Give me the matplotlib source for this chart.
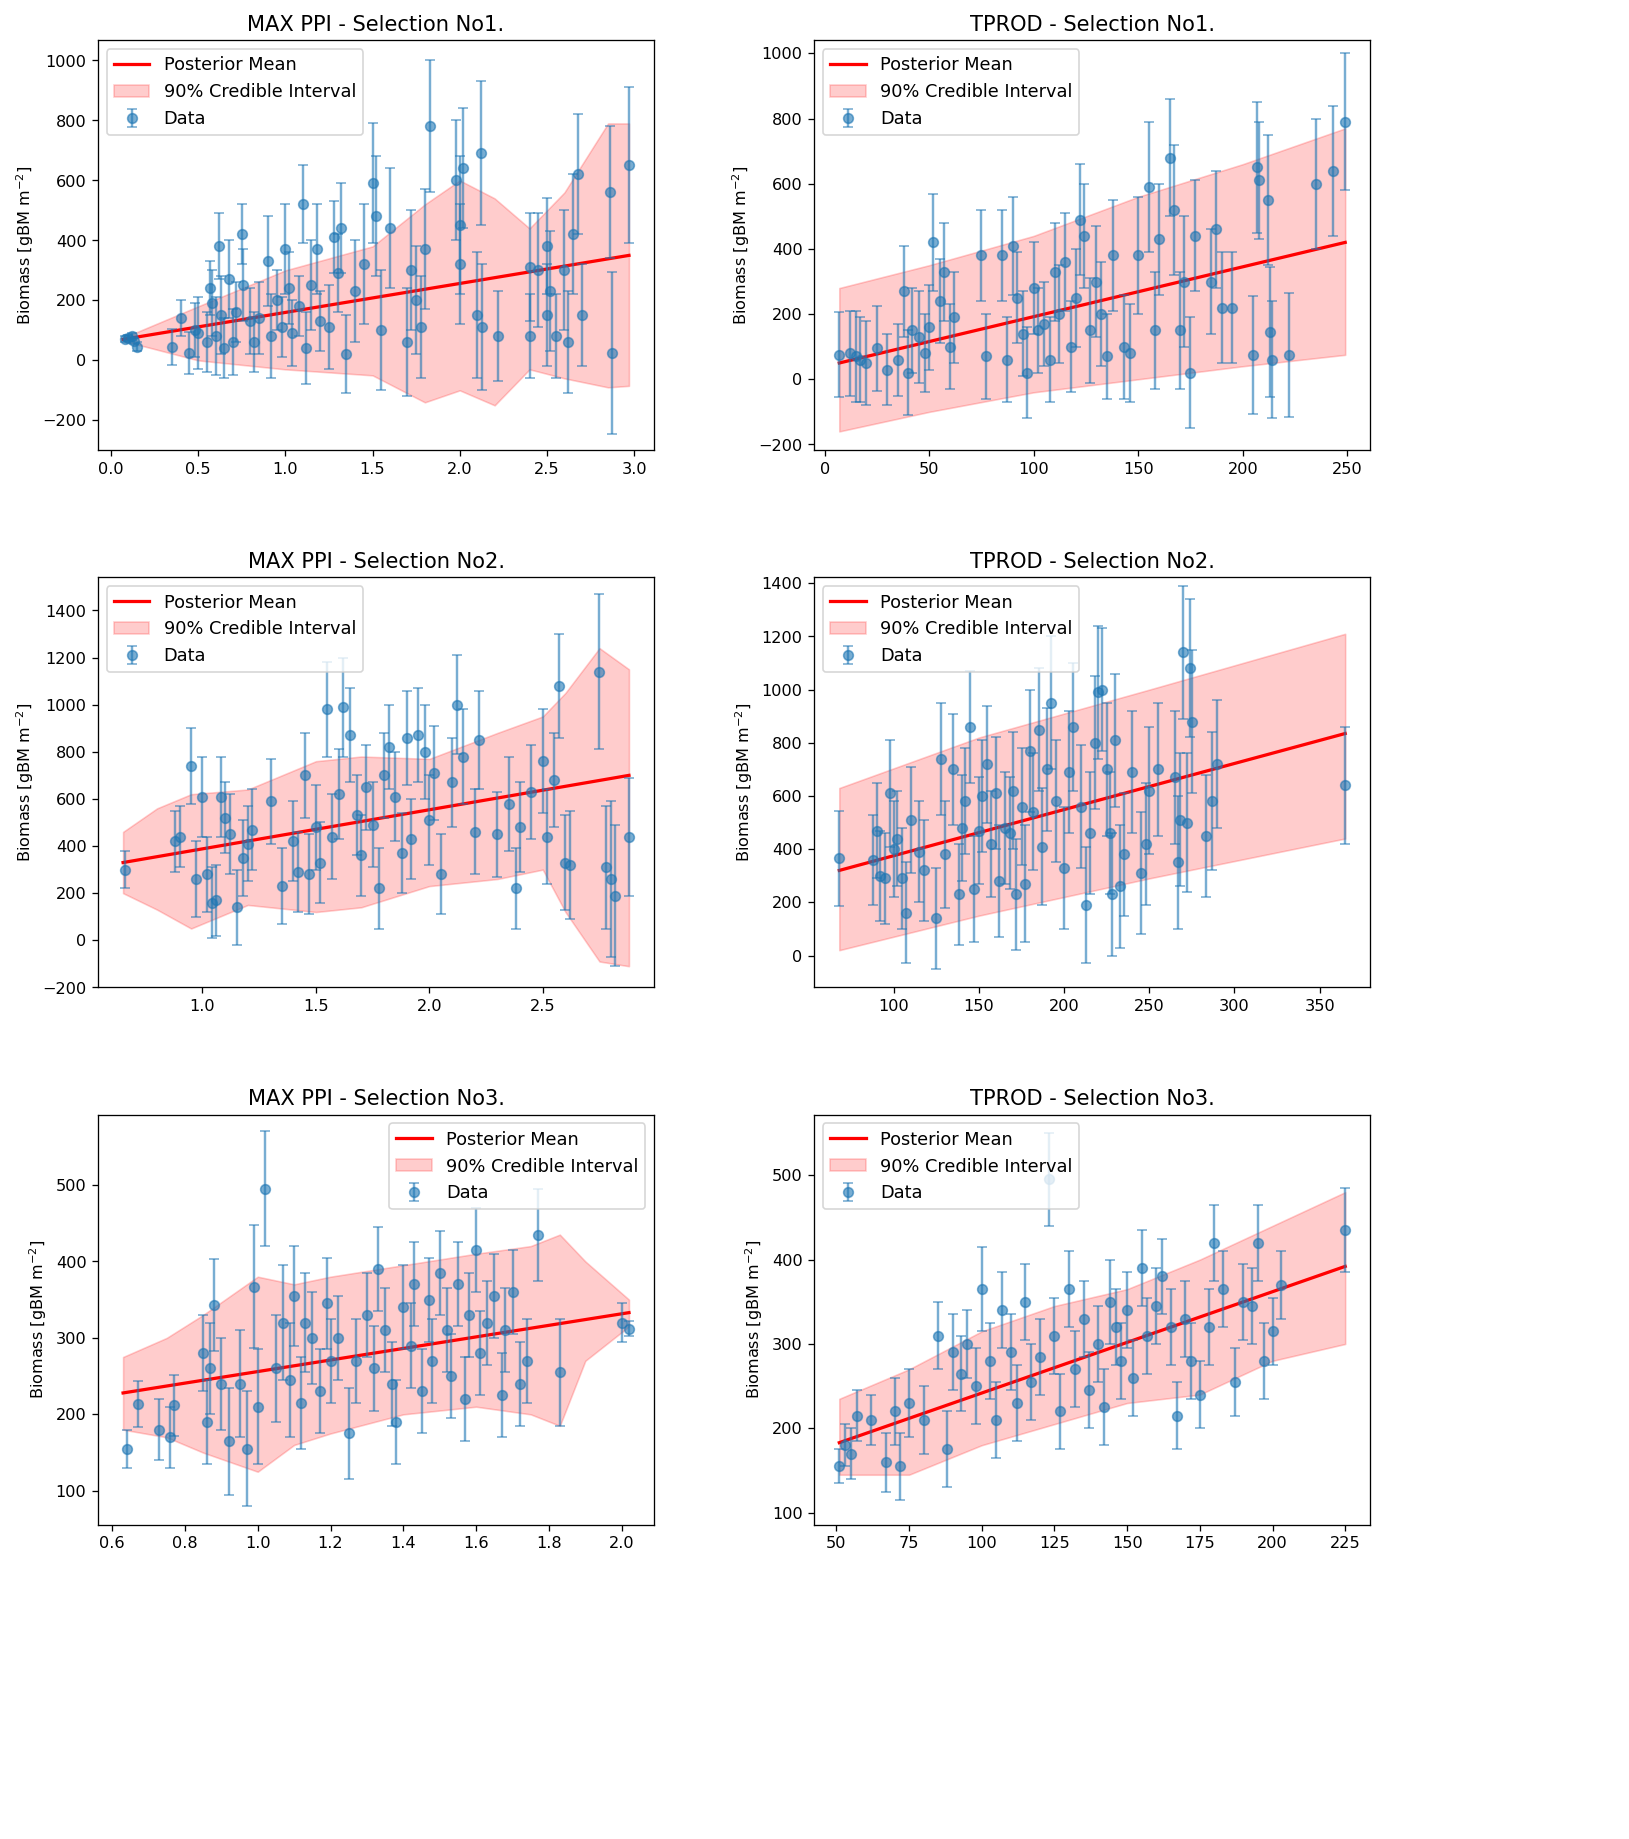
import numpy as np
import matplotlib.pyplot as plt

# ----- data: (x, y, err) per selection -----
ppi1 = [(0.08,70,10),(0.1,75,10),(0.12,80,12),(0.13,65,10),(0.15,45,15),(0.35,45,60),(0.4,140,60),(0.45,25,70),
        (0.48,100,90),(0.5,90,120),(0.55,60,100),(0.57,240,90),(0.58,190,110),(0.6,80,130),(0.62,380,110),(0.63,150,130),
        (0.65,40,100),(0.68,270,130),(0.7,60,110),(0.72,160,100),(0.75,420,100),(0.76,250,120),(0.8,130,110),(0.82,60,100),
        (0.85,140,120),(0.9,330,150),(0.92,80,140),(0.95,200,100),(0.98,110,100),(1.0,370,150),(1.02,240,120),(1.04,90,110),
        (1.08,180,100),(1.1,520,130),(1.12,40,120),(1.15,250,150),(1.18,370,150),(1.2,130,100),(1.25,110,140),(1.28,410,120),
        (1.3,290,130),(1.32,440,150),(1.35,20,130),(1.4,230,170),(1.45,320,200),(1.5,590,200),(1.52,480,200),(1.55,100,200),
        (1.6,440,200),(1.7,60,180),(1.72,300,200),(1.75,200,180),(1.78,110,170),(1.8,370,200),(1.83,780,220),(1.98,600,200),
        (2.0,320,200),(2.0,450,230),(2.02,640,200),(2.1,150,210),(2.12,690,240),(2.13,110,210),(2.22,80,150),(2.4,80,140),
        (2.4,310,180),(2.45,300,190),(2.5,380,160),(2.5,150,170),(2.52,230,200),(2.55,80,140),(2.6,300,200),(2.62,60,170),
        (2.65,420,200),(2.68,620,200),(2.7,150,170),(2.86,560,220),(2.87,25,270),(2.97,650,260)]
tprod1 = [(7,75,130),(12,80,130),(15,70,140),(17,60,130),(20,50,130),(25,95,130),(30,30,110),(35,60,110),(38,270,140),
          (40,20,130),(42,150,130),(45,130,140),(48,80,120),(50,160,130),(52,420,150),(55,240,130),(57,330,150),(60,100,130),
          (62,190,140),(75,380,140),(77,70,130),(85,380,140),(87,60,130),(90,410,150),(92,250,140),(95,140,130),(97,20,140),
          (100,280,140),(102,150,130),(105,170,130),(108,60,130),(110,330,150),(112,200,150),(115,360,150),(118,100,140),
          (120,250,150),(122,490,170),(124,440,160),(127,150,160),(130,300,170),(132,200,160),(135,70,130),(138,380,170),
          (143,100,160),(146,80,150),(150,380,180),(155,590,200),(158,150,180),(160,430,170),(165,680,180),(167,520,200),
          (170,150,180),(172,300,200),(175,20,170),(177,440,170),(185,300,160),(187,460,180),(190,220,170),(195,220,170),
          (205,75,180),(207,650,200),(208,610,180),(212,550,200),(213,145,200),(214,60,180),(222,75,190),(235,600,200),
          (243,640,200),(249,790,210)]
ppi2 = [(0.66,300,80),(0.88,420,130),(0.9,440,130),(0.95,740,160),(0.97,260,160),(1.0,610,170),(1.02,280,160),(1.04,160,150),
        (1.06,170,150),(1.08,610,170),(1.1,520,150),(1.12,450,170),(1.15,140,160),(1.18,350,160),(1.2,410,160),(1.22,470,170),
        (1.3,590,180),(1.35,230,160),(1.4,420,170),(1.42,290,170),(1.45,700,180),(1.47,280,170),(1.5,480,180),(1.52,330,170),
        (1.55,980,200),(1.57,440,180),(1.6,620,190),(1.62,990,210),(1.65,870,200),(1.68,530,170),(1.7,360,170),(1.72,650,180),
        (1.75,490,180),(1.78,220,170),(1.8,700,180),(1.82,820,180),(1.85,610,190),(1.88,370,170),(1.9,860,200),(1.92,430,170),
        (1.95,870,200),(1.98,800,200),(2.0,510,190),(2.02,710,200),(2.05,280,170),(2.1,670,190),(2.12,1000,210),(2.15,780,200),
        (2.2,460,180),(2.22,850,210),(2.3,450,180),(2.35,580,200),(2.38,220,170),(2.4,480,190),(2.45,630,200),(2.5,760,220),
        (2.52,440,200),(2.55,680,200),(2.57,1080,220),(2.6,330,200),(2.62,320,230),(2.75,1140,330),(2.78,310,260),
        (2.8,260,330),(2.82,190,300),(2.88,440,250)]
tprod2 = [(68,365,180),(88,360,170),(90,470,180),(92,300,170),(95,290,170),(98,610,200),(100,400,180),(102,440,180),
          (105,290,190),(107,160,190),(110,510,200),(115,390,190),(118,320,190),(125,140,190),(128,740,210),(130,380,200),
          (135,700,210),(138,230,190),(140,480,200),(142,580,200),(145,860,210),(147,250,200),(150,470,200),(152,600,210),
          (155,720,220),(157,420,200),(160,610,210),(162,280,210),(165,480,210),(168,460,210),(170,620,220),(172,230,210),
          (175,560,220),(177,270,220),(180,770,230),(182,540,220),(185,850,230),(187,410,220),(190,700,230),(192,950,250),
          (195,580,230),(200,330,230),(203,690,230),(205,860,240),(210,560,230),(213,190,220),(215,460,230),(218,800,250),
          (220,990,250),(222,1000,230),(225,700,250),(227,460,230),(228,230,230),(230,810,250),(233,260,230),(235,380,230),
          (240,690,230),(245,310,230),(248,420,230),(250,620,240),(255,700,250),(265,670,250),(267,350,250),(268,510,250),
          (270,1140,250),(272,500,260),(274,1080,260),(275,880,270),(283,450,230),(287,580,260),(290,720,240),(365,640,220)]
ppi3 = [(0.64,155,25),(0.67,213,30),(0.73,180,40),(0.76,170,40),(0.77,212,40),(0.85,280,50),(0.86,190,55),(0.87,260,60),
        (0.88,343,60),(0.9,240,60),(0.92,165,70),(0.95,240,70),(0.97,155,75),(0.99,367,80),(1.0,210,75),(1.02,495,75),
        (1.05,260,70),(1.07,320,75),(1.09,245,75),(1.1,355,65),(1.12,215,60),(1.13,320,65),(1.15,300,60),(1.17,230,55),
        (1.19,345,60),(1.2,270,55),(1.22,300,55),(1.25,175,60),(1.27,270,55),(1.3,330,55),(1.32,260,55),(1.33,390,55),
        (1.35,310,55),(1.37,240,55),(1.38,190,55),(1.4,340,55),(1.42,290,55),(1.43,370,55),(1.45,230,55),(1.47,350,55),
        (1.48,270,55),(1.5,385,55),(1.52,310,55),(1.53,250,55),(1.55,370,55),(1.57,220,55),(1.58,330,55),(1.6,415,55),
        (1.61,280,55),(1.63,320,55),(1.65,355,55),(1.67,225,55),(1.68,310,55),(1.7,360,55),(1.72,240,55),(1.74,270,55),
        (1.77,435,60),(1.83,255,70),(2.0,320,25),(2.02,312,10)]
tprod3 = [(51,155,20),(53,180,25),(55,170,30),(57,215,30),(62,210,30),(67,160,35),(70,220,40),(72,155,40),(75,230,40),
          (80,210,40),(85,310,40),(88,175,45),(90,290,45),(93,265,45),(95,300,40),(98,250,45),(100,365,50),(103,280,45),
          (105,210,45),(107,340,45),(110,290,45),(112,230,45),(115,350,45),(117,255,45),(120,285,45),(123,495,55),
          (125,310,45),(127,220,45),(130,365,45),(132,270,45),(135,330,45),(137,245,45),(140,300,45),(142,225,45),
          (144,350,50),(146,320,45),(148,280,45),(150,340,45),(152,260,45),(155,390,45),(157,310,45),(160,345,45),
          (162,380,45),(165,320,45),(167,215,40),(170,330,45),(172,280,45),(175,240,40),(178,320,45),(180,420,45),
          (183,365,45),(187,255,40),(190,350,45),(193,345,45),(195,420,45),(197,280,45),(200,315,40),(203,370,40),
          (225,435,50)]

# posterior mean endpoints and credible band knots (x, lower, upper)
mean_lines = [((0.07, 2.97), (70, 350)), ((7, 249), (50, 420)),
              ((0.65, 2.88), (330, 700)), ((68, 365), (320, 835)),
              ((0.63, 2.02), (228, 333)), ((51, 225), (183, 392))]
bands = [
    [(0.07,65,75),(0.5,0,180),(1.0,-30,300),(1.5,-50,380),(1.8,-140,520),(2.0,-100,600),(2.2,-150,540),
     (2.4,-30,440),(2.6,-60,560),(2.85,-90,790),(2.97,-85,790)],
    [(7,-160,280),(50,-100,350),(100,-40,440),(150,0,560),(200,40,660),(249,75,770)],
    [(0.65,200,460),(0.8,130,560),(0.95,50,620),(1.2,150,640),(1.5,120,760),(1.7,140,780),(2.0,230,770),
     (2.3,260,880),(2.5,300,950),(2.6,120,1050),(2.75,-90,1240),(2.88,-110,1150)],
    [(68,20,630),(150,150,820),(250,290,1000),(365,440,1210)],
    [(0.63,180,275),(0.75,170,300),(0.85,150,330),(1.0,125,380),(1.1,160,370),(1.2,175,380),(1.4,200,395),
     (1.6,210,410),(1.75,200,420),(1.83,185,435),(1.9,270,400),(2.02,315,350)],
    [(51,145,235),(75,145,270),(100,180,315),(125,205,345),(150,230,365),(175,240,400),(200,280,440),(225,300,480)],
]
titles = ["MAX PPI - Selection No1.", "TPROD - Selection No1.", "MAX PPI - Selection No2.",
          "TPROD - Selection No2.", "MAX PPI - Selection No3.", "TPROD - Selection No3."]
ylims = [(-300, 1067), (-218, 1040), (-200, 1540), (-120, 1422), (56, 592), (86, 572)]
datasets = [ppi1, tprod1, ppi2, tprod2, ppi3, tprod3]

fig, axs = plt.subplots(3, 2, figsize=(14, 15.8), dpi=116.4)
fig.subplots_adjust(left=0.06, right=0.841, top=0.978, bottom=0.171, wspace=0.287, hspace=0.31)

for i, ax in enumerate(axs.flat):
    d = np.array(datasets[i])
    b = np.array(bands[i])
    (x0, x1), (y0, y1) = mean_lines[i]
    ax.plot([x0, x1], [y0, y1], color="red", lw=2, label="Posterior Mean")
    ax.fill_between(b[:, 0], b[:, 1], b[:, 2], color="red", alpha=0.2, label="90% Credible Interval")
    ax.errorbar(d[:, 0], d[:, 1], yerr=d[:, 2], fmt="o", color="C0", alpha=0.6, capsize=3, label="Data")
    ax.set_title(titles[i], fontsize=13)
    ax.set_ylabel("Biomass [gBM m$^{-2}$]")
    ax.set_ylim(ylims[i])
    ax.legend(loc="upper right" if i == 4 else "upper left", fontsize=11)

fig.savefig("out.png")
